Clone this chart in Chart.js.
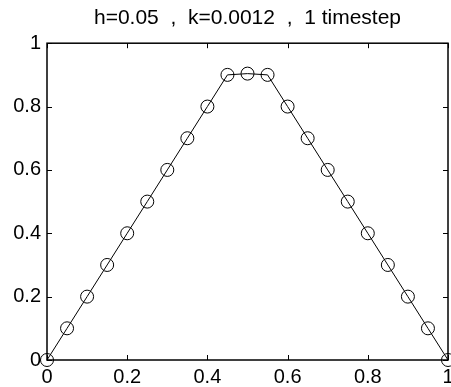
<!DOCTYPE html>
<html>
<head>
<meta charset="utf-8">
<script src="https://cdn.jsdelivr.net/npm/chart.js@4"></script>
<style>
html,body{margin:0;padding:0;background:#fff;}
#wrap{width:451px;height:387px;}
</style>
</head>
<body>
<div id="wrap"><canvas id="c" width="451" height="387"></canvas></div>
<script>
const titleText = 'h=0.05  ,  k=0.0012  ,  1 timestep';
const xValues = [0,0.05,0.1,0.15,0.2,0.25,0.3,0.35,0.4,0.45,0.5,0.55,0.6,0.65,0.7,0.75,0.8,0.85,0.9,0.95,1];
const uValues = [0,0.1,0.2,0.3,0.4,0.5,0.6,0.7,0.8,0.9,0.904,0.9,0.8,0.7,0.6,0.5,0.4,0.3,0.2,0.1,0];
const xTicks = [0,0.2,0.4,0.6,0.8,1];
const yTicks = [0,0.2,0.4,0.6,0.8,1];

const FAMILY = '"Liberation Sans", Helvetica, Arial, sans-serif';
const TICK_FONT = {family:FAMILY, size:20, weight:'normal'};
const TITLE_FONT = {family:FAMILY, size:21, weight:'normal'};

const boxPlugin = {
  id:'boxTicks',
  afterDatasetsDraw(chart){
    const {ctx, chartArea:a, scales:{x,y}} = chart;
    ctx.save();
    ctx.strokeStyle='#000';
    ctx.lineWidth=1.5;
    ctx.strokeRect(a.left, a.top, a.right-a.left, a.bottom-a.top);
    ctx.lineWidth=1;
    const L=5;
    ctx.beginPath();
    xTicks.forEach(v=>{
      const px=Math.round(x.getPixelForValue(v))+0.5;
      ctx.moveTo(px,a.bottom); ctx.lineTo(px,a.bottom-L);
      ctx.moveTo(px,a.top); ctx.lineTo(px,a.top+L);
    });
    yTicks.forEach(v=>{
      const py=Math.round(y.getPixelForValue(v))+0.5;
      ctx.moveTo(a.left,py); ctx.lineTo(a.left+L,py);
      ctx.moveTo(a.right,py); ctx.lineTo(a.right-L,py);
    });
    ctx.stroke();
    ctx.restore();
  }
};

new Chart(document.getElementById('c'), {
  type:'line',
  data:{
    datasets:[{
      data: xValues.map((xv,i)=>({x:xv,y:uValues[i]})),
      borderColor:'#000',
      borderWidth:1,
      backgroundColor:'rgba(0,0,0,0)',
      pointStyle:'circle',
      pointRadius:6.5,
      pointBorderColor:'#000',
      pointBackgroundColor:'rgba(0,0,0,0)',
      pointBorderWidth:1,
      tension:0,
      clip:false
    }]
  },
  plugins:[boxPlugin],
  options:{
    responsive:false,
    animation:false,
    layout:{autoPadding:false,padding:{left:0,right:3,top:0,bottom:0}},
    plugins:{
      legend:{display:false},
      tooltip:{enabled:false},
      title:{display:true,text:titleText,color:'#000',font:TITLE_FONT,fullSize:false,padding:{top:6,bottom:12}}
    },
    scales:{
      x:{
        type:'linear',min:0,max:1,
        border:{display:false},
        grid:{display:false,drawTicks:false},
        afterBuildTicks(s){ s.ticks = xTicks.map(v=>({value:v})); },
        afterFit(s){ s.height=27; s.paddingLeft=0; s.paddingRight=0; },
        ticks:{color:'#000',font:TICK_FONT,padding:5,maxRotation:0,autoSkip:false,callback:v=>String(v)}
      },
      y:{
        type:'linear',min:0,max:1,
        border:{display:false},
        grid:{display:false,drawTicks:false},
        afterBuildTicks(s){ s.ticks = yTicks.map(v=>({value:v})); },
        afterFit(s){ s.width=47; s.paddingTop=0; s.paddingBottom=0; },
        ticks:{color:'#000',font:TICK_FONT,padding:6,autoSkip:false,callback:v=>String(v)}
      }
    }
  }
});
</script>
</body>
</html>
